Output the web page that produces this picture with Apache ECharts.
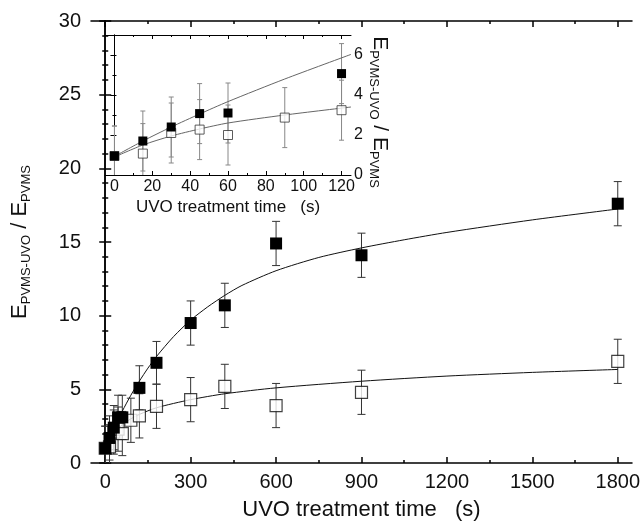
<!DOCTYPE html>
<html>
<head>
<meta charset="utf-8">
<script src="https://cdn.jsdelivr.net/npm/echarts@6/dist/echarts.min.js"></script>
<style>
  html, body { margin: 0; padding: 0; background: #fff; }
  #chart { width: 643px; height: 526px; }
</style>
</head>
<body>
<div id="chart"></div>
<script>
const FONT = "Liberation Sans";

// main plot data (filled = PVMS-UVO, open = second sample)
const filledX = [0, 15, 30, 45, 60, 120, 180, 300, 420, 600, 900, 1800];
const filledY = [1.0, 1.7, 2.4, 3.1, 3.1, 5.1, 6.8, 9.5, 10.7, 14.9, 14.1, 17.6];
const filledErr = [1.5, 1.5, 1.5, 1.5, 1.5, 1.5, 1.45, 1.5, 1.5, 1.5, 1.5, 1.5];

const openX = [0, 15, 30, 45, 60, 90, 120, 180, 300, 420, 600, 900, 1800];
const openY = [1.0, 1.1, 2.1, 2.3, 2.0, 2.9, 3.2, 3.85, 4.3, 5.2, 3.9, 4.8, 6.9];
const openErr = [1.5, 1.5, 1.5, 1.5, 1.5, 1.5, 1.5, 1.5, 1.5, 1.5, 1.5, 1.5, 1.5];

// fitted curves
const fitFilledX = [0, 30, 60, 90, 120, 150, 180, 240, 300, 360, 420, 480, 600, 750, 900, 1050, 1200, 1500, 1800];
const fitFilledY = [1.0, 2.33, 3.52, 4.6, 5.56, 6.44, 7.23, 8.58, 9.7, 10.6, 11.38, 12.05, 13.05, 13.95, 14.6, 15.15, 15.65, 16.5, 17.24];
const fitOpenX = [0, 15, 30, 45, 60, 90, 120, 180, 300, 420, 600, 900, 1200, 1500, 1800];
const fitOpenY = [0.9, 1.5, 1.95, 2.3, 2.6, 3.0, 3.3, 3.75, 4.3, 4.7, 5.1, 5.55, 5.9, 6.15, 6.35];

// inset (first 120 s)
const insetFilledX = [0, 15, 30, 45, 60, 120];
const insetFilledY = [0.95, 1.7, 2.4, 3.07, 3.1, 5.07];
const insetFilledErr = [1.5, 1.5, 1.5, 1.5, 1.5, 1.5];
const insetOpenX = [0, 15, 30, 45, 60, 90, 120];
const insetOpenY = [0.95, 1.07, 2.1, 2.27, 2.0, 2.87, 3.24];
const insetOpenErr = [1.5, 1.5, 1.5, 1.5, 1.5, 1.5, 1.5];
const insetFitFilledX = [0, 15, 30, 45, 60, 90, 125];
const insetFitFilledY = [0.93, 1.7, 2.4, 3.05, 3.67, 4.8, 6.03];
const insetFitOpenX = [0, 15, 30, 45, 60, 90, 125];
const insetFitOpenY = [0.9, 1.5, 1.95, 2.3, 2.6, 3.0, 3.4];

// tick values
const mainXMajor = [0, 300, 600, 900, 1200, 1500, 1800];
const mainXMinor = [150, 450, 750, 1050, 1350, 1650];
const insetXMajor = [0, 20, 40, 60, 80, 100, 120];
const insetXMinor = [10, 30, 50, 70, 90, 110];
const insetYMajor = [0, 2, 4, 6];
const insetYMinor = [1, 3, 5];

const TITLE = "{b|E}{s|PVMS-UVO}{b| / E}{s|PVMS}";

const pairs = (xs, ys) => xs.map((x, i) => [x, ys[i]]);
const errData = (xs, ys, es) => xs.map((x, i) => [x, ys[i] - es[i], ys[i] + es[i]]);

function errRender(cap, color) {
  return function (params, api) {
    const x = api.value(0);
    const lo = api.coord([x, api.value(1)]);
    const hi = api.coord([x, api.value(2)]);
    const style = { stroke: color, lineWidth: 1 };
    return {
      type: "group",
      children: [
        { type: "line", shape: { x1: lo[0], y1: lo[1], x2: hi[0], y2: hi[1] }, style },
        { type: "line", shape: { x1: lo[0] - cap, y1: lo[1], x2: lo[0] + cap, y2: lo[1] }, style },
        { type: "line", shape: { x1: hi[0] - cap, y1: hi[1], x2: hi[0] + cap, y2: hi[1] }, style },
      ],
    };
  };
}

// an x axis that only draws ticks (or ticks + labels) at given values
function xAxisDef(grid, min, max, pos, ticks, len, opts) {
  opts = opts || {};
  return {
    gridIndex: grid, type: "value", min, max, position: pos,
    axisLine: { show: !!opts.line, onZero: false, lineStyle: { color: "#000", width: opts.lw || 1 } },
    axisTick: { inside: true, length: len, customValues: ticks, lineStyle: { color: "#000", width: opts.lw || 1 } },
    axisLabel: opts.labels
      ? {
          show: true, customValues: ticks, fontFamily: FONT, fontSize: opts.fs, color: "#111",
          margin: opts.margin, formatter: (v) => String(v),
        }
      : { show: false },
    splitLine: { show: false },
    name: opts.name, nameLocation: "middle", nameGap: opts.nameGap,
    nameTextStyle: { fontFamily: FONT, fontSize: opts.nameSize, color: "#111" },
  };
}

const titleRich = (big, small, lh, padding) => ({
  padding: padding || 0,
  rich: {
    b: { fontFamily: FONT, fontSize: big, lineHeight: lh, color: "#111" },
    s: { fontFamily: FONT, fontSize: small, lineHeight: 2, verticalAlign: "bottom", color: "#111" },
  },
});

const lineDef = (xi, yi, xs, ys, color) => ({
  type: "line", xAxisIndex: xi, yAxisIndex: yi, data: pairs(xs, ys),
  smooth: 0.25, showSymbol: false, z: 2,
  lineStyle: { color, width: 1 },
});

const chart = echarts.init(document.getElementById("chart"));

chart.setOption({
  backgroundColor: "#fff",
  animation: false,
  grid: [
    { left: 91, right: 10, top: 21, bottom: 59 },
    { left: 105, top: 35, width: 246, height: 140 },
  ],
  xAxis: [
    xAxisDef(0, -50, 1850, "bottom", mainXMajor, 6, {
      line: true, lw: 1.5, labels: true, fs: 20, margin: 9,
      name: "UVO treatment time   (s)", nameGap: 36, nameSize: 22,
    }),
    xAxisDef(0, -50, 1850, "bottom", mainXMinor, 3, { lw: 1.5 }),
    xAxisDef(0, -50, 1850, "top", mainXMajor, 6, { line: true, lw: 1.5 }),
    xAxisDef(0, -50, 1850, "top", mainXMinor, 3, { lw: 1.5 }),
    xAxisDef(1, -5, 125, "bottom", insetXMajor, 4, {
      line: true, labels: true, fs: 16, margin: 4,
      name: "UVO treatment time   (s)", nameGap: 24, nameSize: 17,
    }),
    xAxisDef(1, -5, 125, "bottom", insetXMinor, 2),
    xAxisDef(1, -5, 125, "top", insetXMajor, 4, { line: true }),
    xAxisDef(1, -5, 125, "top", insetXMinor, 2),
  ],
  yAxis: [
    {
      gridIndex: 0, type: "value", min: 0, max: 30, interval: 5, position: "left",
      name: TITLE, nameLocation: "middle", nameRotate: 90, nameGap: 58,
      nameTextStyle: titleRich(22, 13, 26),
      axisLine: { show: true, lineStyle: { color: "#000", width: 1.5 } },
      axisTick: { inside: true, length: 6, lineStyle: { color: "#000", width: 1.5 } },
      minorTick: { show: true, splitNumber: 5, length: 3, lineStyle: { color: "#000", width: 1.5 } },
      axisLabel: { fontFamily: FONT, fontSize: 20, color: "#111", margin: 10 },
      splitLine: { show: false },
    },
    {
      gridIndex: 0, type: "value", min: 0, max: 30, interval: 5, position: "right",
      axisLine: { show: true, lineStyle: { color: "#000", width: 1.5 } },
      axisTick: { inside: true, length: 6, lineStyle: { color: "#000", width: 1.5 } },
      minorTick: { show: true, splitNumber: 5, length: 3, lineStyle: { color: "#000", width: 1.5 } },
      axisLabel: { show: false },
      splitLine: { show: false },
    },
    {
      gridIndex: 1, type: "value", min: 0, max: 7, position: "left",
      axisLine: { show: true, lineStyle: { color: "#000" } },
      axisTick: { inside: true, length: 2, customValues: insetYMinor.concat(insetYMajor), lineStyle: { color: "#000" } },
      axisLabel: { show: false },
      splitLine: { show: false },
    },
    {
      gridIndex: 1, type: "value", min: 0, max: 7, position: "right",
      name: TITLE, nameLocation: "middle", nameRotate: -90, nameGap: 16,
      nameTextStyle: titleRich(21, 13, 25, [0, 0, 0, 14]),
      axisLine: { show: true, lineStyle: { color: "#000" } },
      axisTick: { inside: true, length: 4, customValues: insetYMajor, lineStyle: { color: "#000" } },
      axisLabel: { customValues: insetYMajor, fontFamily: FONT, fontSize: 16, color: "#111", margin: 3 },
      splitLine: { show: false },
    },
    {
      gridIndex: 1, type: "value", min: 0, max: 7, position: "right",
      axisLine: { show: false },
      axisTick: { inside: true, length: 2, customValues: insetYMinor, lineStyle: { color: "#000" } },
      axisLabel: { show: false },
      splitLine: { show: false },
    },
  ],
  series: [
    // main plot
    {
      type: "custom", xAxisIndex: 0, yAxisIndex: 0, clip: true, z: 1,
      renderItem: errRender(4, "#333"), data: errData(openX, openY, openErr),
    },
    {
      type: "custom", xAxisIndex: 0, yAxisIndex: 0, clip: true, z: 1,
      renderItem: errRender(4, "#333"), data: errData(filledX, filledY, filledErr),
    },
    lineDef(0, 0, fitOpenX, fitOpenY, "#111"),
    lineDef(0, 0, fitFilledX, fitFilledY, "#111"),
    {
      type: "scatter", xAxisIndex: 0, yAxisIndex: 0, data: pairs(openX, openY),
      symbol: "rect", symbolSize: 12, z: 3,
      itemStyle: { color: "#fff", borderColor: "#111", borderWidth: 1.2 },
    },
    {
      type: "scatter", xAxisIndex: 0, yAxisIndex: 0, data: pairs(filledX, filledY),
      symbol: "rect", symbolSize: 12, z: 4,
      itemStyle: { color: "#000", opacity: 1 },
    },
    // inset
    {
      type: "custom", xAxisIndex: 4, yAxisIndex: 2, clip: true, z: 1,
      renderItem: errRender(2.5, "#888"), data: errData(insetOpenX, insetOpenY, insetOpenErr),
    },
    {
      type: "custom", xAxisIndex: 4, yAxisIndex: 2, clip: true, z: 1,
      renderItem: errRender(2.5, "#888"), data: errData(insetFilledX, insetFilledY, insetFilledErr),
    },
    lineDef(4, 2, insetFitOpenX, insetFitOpenY, "#666"),
    lineDef(4, 2, insetFitFilledX, insetFitFilledY, "#666"),
    {
      type: "scatter", xAxisIndex: 4, yAxisIndex: 2, data: pairs(insetOpenX, insetOpenY),
      symbol: "rect", symbolSize: 9, z: 3,
      itemStyle: { color: "#fff", borderColor: "#333", borderWidth: 1 },
    },
    {
      type: "scatter", xAxisIndex: 4, yAxisIndex: 2, data: pairs(insetFilledX, insetFilledY),
      symbol: "rect", symbolSize: 9, z: 4,
      itemStyle: { color: "#000", opacity: 1 },
    },
  ],
});
</script>
</body>
</html>
